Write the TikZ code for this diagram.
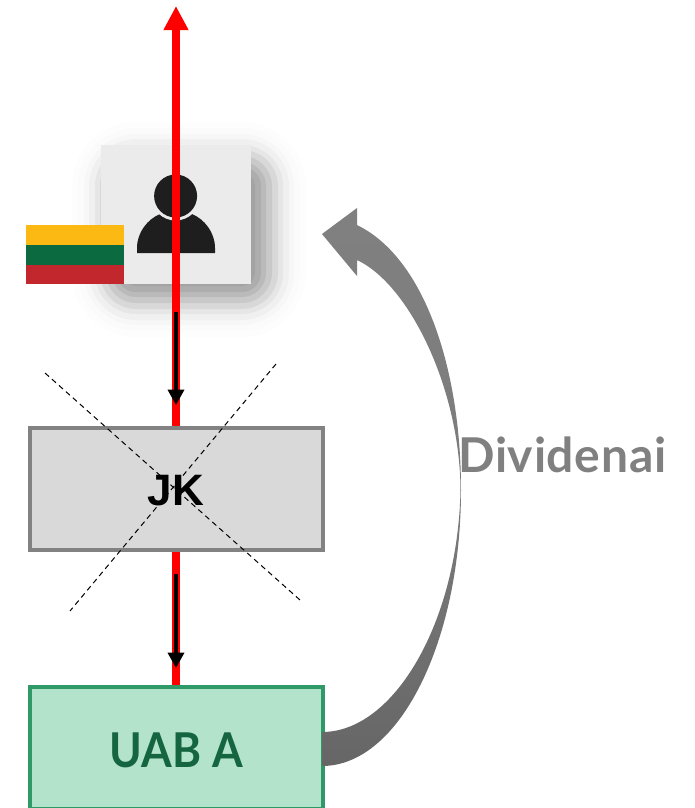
\documentclass[tikz,border=0pt]{standalone}
\usepackage{fontspec}
\setmainfont{Lato}
\newfontfamily\arialfont{Liberation Sans}
\newfontfamily\divfont[LetterSpace=1.5]{Lato}
\usetikzlibrary{arrows.meta}
\definecolor{jkfill}{HTML}{D9D9D9}
\definecolor{jkline}{HTML}{828282}
\definecolor{uabfill}{HTML}{B3E3CA}
\definecolor{uabline}{HTML}{2F9A68}
\definecolor{uabtext}{HTML}{156640}
\definecolor{cardfill}{HTML}{EBEBEB}
\definecolor{iconfill}{HTML}{1E1E1E}
\definecolor{flagy}{HTML}{FDB913}
\definecolor{flagg}{HTML}{0B6A3F}
\definecolor{flagr}{HTML}{C1272D}
\definecolor{flowtop}{HTML}{808080}
\definecolor{flowbot}{HTML}{666666}
\tikzset{
  entity/.style={draw,line width=3pt,minimum width=219.4pt,minimum height=91.5pt,inner sep=0pt,outer sep=0pt,anchor=north west},
  redflow/.style={draw=red,line width=6pt,-{Triangle[length=18pt,width=17.5pt]},red},
  blackflow/.style={draw=black,line width=2.6pt,-{Triangle[length=11.5pt,width=12pt]},black,shorten >=0pt},
  crossline/.style={draw=black,line width=0.75pt,dash pattern=on 4pt off 3pt}
}
\begin{document}
\begin{tikzpicture}[x=0.75pt,y=-0.75pt]
\useasboundingbox (0,0) rectangle (694,808);
% soft shadow of the card
\foreach \o/\a in {34/.006,28/.008,22/.017,17/.028,11/.042,6/.058,0/.071,-6/.076,-11/.071,-17/.059,-22/.042,-28/.028}{
  \pgfmathsetmacro{\rc}{max(1,(\o+30)*0.75)}
  \fill[black,opacity=\a,rounded corners=\rc pt] (106-\o,156-\o) rectangle (272+\o,303+\o);
}
% card and person
\node[fill=cardfill,minimum width=112.5pt,minimum height=104.25pt,inner sep=0pt,outer sep=0pt,anchor=north west] (card) at (101,145) {};
\fill[iconfill] (137,253) -- (137,248) .. controls (137,232) and (148,219) .. (160,214) -- (192,214) .. controls (204,219) and (215,232) .. (215,248) -- (215,253) -- cycle;
\fill[cardfill] (175.6,196) circle[radius=24.5];
\fill[iconfill] (175.6,196) circle[radius=21.5];
% flag
\fill[flagy] (26,225) rectangle (124,245);
\fill[flagg] (26,245) rectangle (124,265);
\fill[flagr] (26,265) rectangle (124,284);
% connector end points
\coordinate (top) at (176,6);
\coordinate (jkin) at (176,312);
\coordinate (jkinend) at (176,405);
\coordinate (uabin) at (176,574);
\coordinate (uabinend) at (176,668);
\coordinate (redstart) at (176,686);
% flows
\draw[redflow] (redstart) -- (top);
\draw[blackflow] (jkin) -- (jkinend);
\draw[blackflow] (uabin) -- (uabinend);
% entities
\node[entity,draw=jkline,fill=jkfill] (jk) at (30,428) {};
\node[entity,draw=uabline,fill=uabfill] (uab) at (30,687) {};
\node[text=black,font=\arialfont\bfseries\fontsize{33}{33}\selectfont,inner sep=0pt] (jklabel) at (176,491) {JK};
\node[text=uabtext,font=\bfseries\fontsize{36}{36}\selectfont,inner sep=0pt] (uablabel) at (176.5,750) {\scalebox{0.92}[1]{UAB A}};
% crossed out
\coordinate (c1a) at (45,373);
\coordinate (c1b) at (300,600);
\coordinate (c2a) at (276,364);
\coordinate (c2b) at (70,611);
\draw[crossline] (c1a) -- (c1b);
\draw[crossline] (c2a) -- (c2b);
% dividend arrow
\shade[top color=flowtop,bottom color=flowbot,middle color=flowtop!85!flowbot]
  (322,234) -- (357,208) -- (357,225)
  .. controls (425,258) and (461,370) .. (461,490)
  .. controls (461,640) and (400,766) .. (322,766)
  -- (322,732)
  .. controls (395,732) and (458,620) .. (460.5,490)
  .. controls (460,390) and (410,285) .. (357,260)
  -- (357,276) -- cycle;
\node[text=flowtop,font=\divfont\bfseries\fontsize{36}{36}\selectfont,inner sep=0pt,anchor=base west] (div) at (458,472) {Dividenai};
\end{tikzpicture}
\end{document}
